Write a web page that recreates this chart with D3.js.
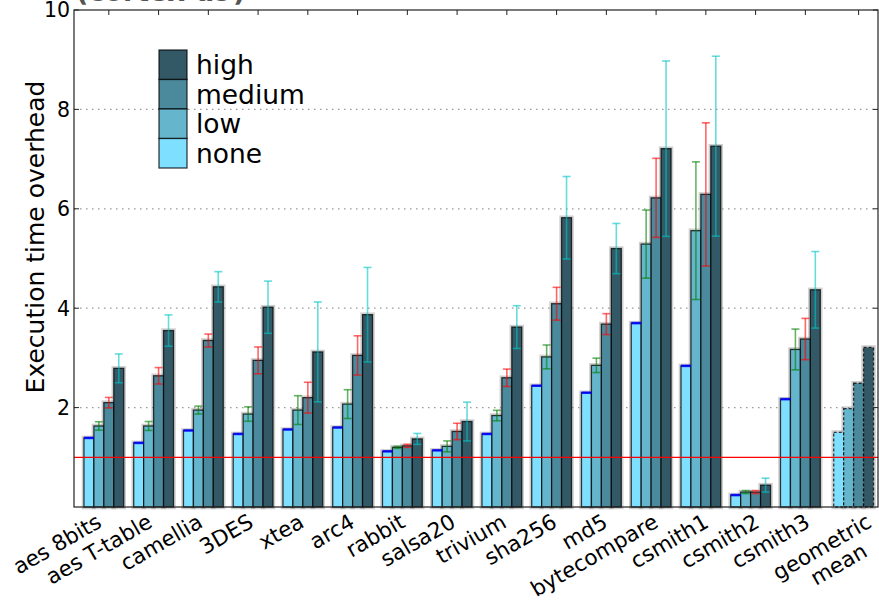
<!DOCTYPE html>
<html>
<head>
<meta charset="utf-8">
<script src="https://cdn.jsdelivr.net/npm/d3@7"></script>
<style>
  body { margin: 0; background: #fff; }
  svg { display: block; font-family: "DejaVu Sans", sans-serif; }
</style>
</head>
<body>
<svg id="chart" width="879" height="610"></svg>
<script>
var categories = ["aes 8bits", "aes T-table", "camellia", "3DES", "xtea", "arc4", "rabbit", "salsa20",
                  "trivium", "sha256", "md5", "bytecompare", "csmith1", "csmith2", "csmith3", "geometric\nmean"];
var levels = ["none", "low", "medium", "high"];

var noneVals   = [1.39, 1.29, 1.54, 1.47, 1.56, 1.60, 1.12, 1.14, 1.47, 2.44, 2.30, 3.70, 2.84, 0.24, 2.17, 1.50];
var lowVals    = [1.63, 1.63, 1.95, 1.87, 1.95, 2.07, 1.20, 1.22, 1.84, 3.02, 2.85, 5.29, 5.56, 0.30, 3.17, 1.98];
var mediumVals = [2.10, 2.64, 3.35, 2.95, 2.20, 3.05, 1.23, 1.52, 2.60, 4.09, 3.68, 6.22, 6.29, 0.30, 3.38, 2.49];
var highVals   = [2.79, 3.55, 4.43, 4.02, 3.12, 3.87, 1.37, 1.72, 3.62, 5.82, 5.20, 7.21, 7.26, 0.44, 4.37, 3.21];

// half-width of the error bars (geometric mean has none)
var noneErr   = [0.01, 0.01, 0.01, 0.01, 0.01, 0.01, 0.01, 0.01, 0.01, 0.01, 0.01, 0.01, 0.01, 0.01, 0.01, 0];
var lowErr    = [0.085, 0.09, 0.08, 0.145, 0.29, 0.29, 0.02, 0.11, 0.105, 0.24, 0.145, 0.685, 1.385, 0.03, 0.41, 0];
var mediumErr = [0.105, 0.165, 0.13, 0.27, 0.31, 0.395, 0.03, 0.165, 0.175, 0.33, 0.21, 0.795, 1.44, 0.03, 0.415, 0];
var highErr   = [0.29, 0.315, 0.305, 0.525, 1.005, 0.95, 0.11, 0.39, 0.43, 0.83, 0.505, 1.765, 1.81, 0.14, 0.77, 0];

var yTicks = [2, 4, 6, 8, 10];
var gridVals = [2, 4, 6, 8];
var baseline = 1;

var values = [noneVals, lowVals, mediumVals, highVals];
var errs = [noneErr, lowErr, mediumErr, highErr];
var fills = ["#7fdfff", "#65b5cc", "#4b8a9c", "#335966"];
var errColors = ["#0000ff", "#008000", "#ff0000", "#00c4c4"];

var svg = d3.select("#chart");
var plotL = 74, plotR = 878, plotT = 10, plotB = 507;
var barW = 0.2;
var nCat = categories.length;

var x = d3.scaleLinear().domain([-0.2, 15.96]).range([plotL, plotR]);
var y = d3.scaleLinear().domain([0, 10]).range([plotB, plotT]);
// tick labels run on a slightly wider pitch than the bars
var xTick = d3.scaleLinear().domain([0, nCat - 1]).range([x(0.5) - 6, x(0.5) - 6 + (nCat - 1) * 50.6]);

function groupPos(i) { return i == nCat - 1 ? i + 0.07 : i; }

// clipped title at the very top
svg.append("text")
  .attr("x", 76).attr("y", 1)
  .attr("font-size", "27px").attr("font-weight", "bold")
  .attr("fill", "#555")
  .text("(cortex-a9)");

// grid
svg.append("g").selectAll("line")
  .data(gridVals).enter().append("line")
  .attr("x1", plotL).attr("x2", plotR)
  .attr("y1", function(d) { return y(d); }).attr("y2", function(d) { return y(d); })
  .attr("stroke", "#999").attr("stroke-width", 1.2)
  .attr("stroke-dasharray", "1.5,4.5");

// bars
var rows = [];
for (var i = 0; i < nCat; i++) {
  for (var k = 0; k < 4; k++) {
    rows.push({ g: i, k: k, v: values[k][i], e: errs[k][i] });
  }
}
var bw = x(barW) - x(0);

var bars = svg.append("g");
bars.selectAll("rect.halo")
  .data(rows).enter().append("rect")
  .attr("class", "halo")
  .attr("x", function(d) { return x(groupPos(d.g) + barW * d.k); })
  .attr("y", function(d) { return y(d.v); })
  .attr("width", bw)
  .attr("height", function(d) { return y(0) - y(d.v); })
  .attr("fill", "none")
  .attr("stroke", "#888").attr("stroke-opacity", 0.4).attr("stroke-width", 4.5);

bars.selectAll("rect.bar")
  .data(rows).enter().append("rect")
  .attr("class", "bar")
  .attr("x", function(d) { return x(groupPos(d.g) + barW * d.k); })
  .attr("y", function(d) { return y(d.v); })
  .attr("width", bw)
  .attr("height", function(d) { return y(0) - y(d.v); })
  .attr("fill", function(d) { return fills[d.k]; })
  .attr("stroke", "#000").attr("stroke-opacity", 0.75).attr("stroke-width", 1.3)
  .attr("stroke-dasharray", function(d) { return d.g == nCat - 1 ? "3,2" : null; });

// error bars
var eb = svg.append("g").selectAll("g")
  .data(rows.filter(function(d) { return d.e > 0; })).enter().append("g")
  .attr("stroke", function(d) { return errColors[d.k]; })
  .attr("stroke-opacity", function(d) { return d.k == 0 ? 0.8 : 0.6; })
  .attr("stroke-width", 1.6);
eb.append("line")
  .attr("x1", function(d) { return x(groupPos(d.g) + barW * (d.k + 0.5)); })
  .attr("x2", function(d) { return x(groupPos(d.g) + barW * (d.k + 0.5)); })
  .attr("y1", function(d) { return y(d.v + d.e); })
  .attr("y2", function(d) { return y(d.v - d.e); });
[1, -1].forEach(function(s) {
  eb.append("line")
    .attr("x1", function(d) { return x(groupPos(d.g) + barW * (d.k + 0.5)) - (d.k == 0 ? 5 : 4); })
    .attr("x2", function(d) { return x(groupPos(d.g) + barW * (d.k + 0.5)) + (d.k == 0 ? 5 : 4); })
    .attr("y1", function(d) { return y(d.v + s * d.e); })
    .attr("y2", function(d) { return y(d.v + s * d.e); });
});

// reference line at 1
svg.append("line")
  .attr("x1", plotL).attr("x2", plotR)
  .attr("y1", y(baseline)).attr("y2", y(baseline))
  .attr("stroke", "#ff0000").attr("stroke-width", 1.3);

// axes frame
svg.append("rect")
  .attr("x", plotL).attr("y", plotT)
  .attr("width", plotR - plotL).attr("height", plotB - plotT)
  .attr("fill", "none").attr("stroke", "#222").attr("stroke-width", 1.2);

// y ticks (inward, both sides) and labels
var yt = svg.append("g");
yTicks.forEach(function(t) {
  yt.append("line").attr("x1", plotL).attr("x2", plotL + 5)
    .attr("y1", y(t)).attr("y2", y(t)).attr("stroke", "#222");
  yt.append("line").attr("x1", plotR - 5).attr("x2", plotR)
    .attr("y1", y(t)).attr("y2", y(t)).attr("stroke", "#222");
  yt.append("text")
    .attr("x", plotL - 4).attr("y", y(t))
    .attr("dy", "0.36em")
    .attr("text-anchor", "end")
    .attr("font-size", "20.5px")
    .text(t);
});

// top ticks (inward) over each group
var xt = svg.append("g");
categories.forEach(function(c, i) {
  var tx = x(groupPos(i) + 0.5);
  xt.append("line").attr("x1", tx).attr("x2", tx)
    .attr("y1", plotT).attr("y2", plotT + 5).attr("stroke", "#222");
});

// rotated labels; second line of a label sits a bit right of centre under the first
categories.forEach(function(c, i) {
  var lines = c.split("\n");
  var ax = xTick(i) - 8 + (lines.length - 1) * 11;
  var t = xt.append("text")
    .attr("transform", "translate(" + ax + "," + (plotB + 5) + ") rotate(-30)")
    .attr("text-anchor", "end")
    .attr("font-size", "21.5px");
  var spans = lines.map(function(l, j) {
    return t.append("tspan").attr("y", 0)
      .attr("dy", (0.76 + j * 1.08) + "em")
      .text(l);
  });
  var lens = spans.map(function(s) { return s.node().getComputedTextLength(); });
  var w = d3.max(lens);
  spans.forEach(function(s, j) { s.attr("x", -(w - lens[j]) * 0.38); });
});

// y label
svg.append("text")
  .attr("transform", "translate(44,237) rotate(-90)")
  .attr("text-anchor", "middle")
  .attr("font-size", "25px")
  .text("Execution time overhead");

// legend (top entry is "high")
var legend = svg.append("g");
var legendOrder = [3, 2, 1, 0];
legendOrder.forEach(function(k, j) {
  var ly = 50 + j * 29.5;
  legend.append("rect")
    .attr("x", 159).attr("y", ly)
    .attr("width", 28).attr("height", 29.5)
    .attr("fill", fills[k])
    .attr("stroke", "#000").attr("stroke-opacity", 0.75).attr("stroke-width", 1.3);
  legend.append("text")
    .attr("x", 196).attr("y", ly + 14.75)
    .attr("dy", "0.35em")
    .attr("font-size", "26.5px")
    .text(levels[k]);
});
</script>
</body>
</html>
